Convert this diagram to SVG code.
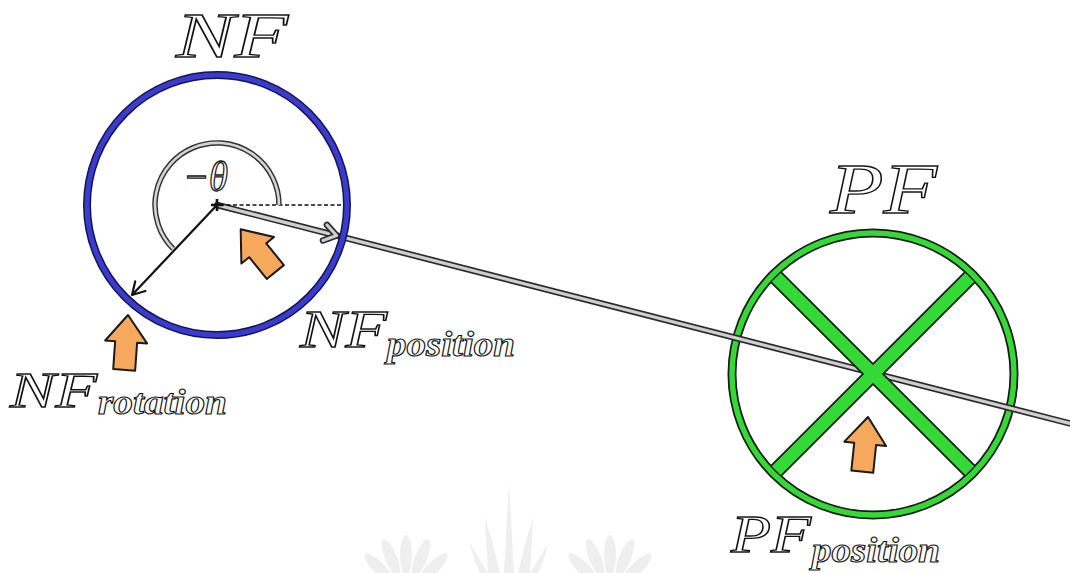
<svg xmlns="http://www.w3.org/2000/svg" xmlns:xlink="http://www.w3.org/1999/xlink" width="1070" height="573" viewBox="0 0 1070 573">
<style>
.lbl{font-family:"Liberation Serif","DejaVu Serif",serif;font-style:italic;fill:#fff;stroke:#111;stroke-width:1.3}
.sub{font-weight:bold;stroke-width:1.1}
.orange{fill:#f6a95d;stroke:#1a1a1a;stroke-width:2;stroke-linejoin:round}
.wm{fill:#efefef}
</style>
<defs>
<path id="blk" d="M0,0 L21,27 L11,27 L11,55 L-11,55 L-11,27 L-21,27 Z"/>
</defs>
<rect width="1070" height="573" fill="#fff"/>

<g id="watermark">
<path class="wm" d="M509,482 L514,573 L504,573 Z"/>
<path class="wm" d="M485,517 Q494,545 500,573 L488,573 Q486,545 485,517 Z"/>
<path class="wm" d="M533,517 Q532,545 530,573 L518,573 Q524,545 533,517 Z"/>
<path class="wm" d="M470,543 Q478,558 488,573 L480,573 Q473,558 470,543 Z"/>
<path class="wm" d="M548,543 Q545,558 538,573 L530,573 Q540,558 548,543 Z"/>
<g transform="translate(406,595)">
<ellipse class="wm" cx="0" cy="-35" rx="6" ry="20" transform="rotate(-70)"/>
<ellipse class="wm" cx="0" cy="-38" rx="6" ry="20" transform="rotate(-45)"/>
<ellipse class="wm" cx="0" cy="-40" rx="6" ry="20" transform="rotate(-22)"/>
<ellipse class="wm" cx="0" cy="-40" rx="6" ry="20"/>
<ellipse class="wm" cx="0" cy="-40" rx="6" ry="20" transform="rotate(22)"/>
<ellipse class="wm" cx="0" cy="-38" rx="6" ry="20" transform="rotate(45)"/>
<ellipse class="wm" cx="0" cy="-35" rx="6" ry="20" transform="rotate(70)"/>
</g>
<g transform="translate(610,595)">
<ellipse class="wm" cx="0" cy="-35" rx="6" ry="20" transform="rotate(-70)"/>
<ellipse class="wm" cx="0" cy="-38" rx="6" ry="20" transform="rotate(-45)"/>
<ellipse class="wm" cx="0" cy="-40" rx="6" ry="20" transform="rotate(-22)"/>
<ellipse class="wm" cx="0" cy="-40" rx="6" ry="20"/>
<ellipse class="wm" cx="0" cy="-40" rx="6" ry="20" transform="rotate(22)"/>
<ellipse class="wm" cx="0" cy="-38" rx="6" ry="20" transform="rotate(45)"/>
<ellipse class="wm" cx="0" cy="-35" rx="6" ry="20" transform="rotate(70)"/>
</g>
</g>

<g id="PF">
<circle cx="873" cy="374" r="141" fill="none" stroke="#1a1a1a" stroke-width="9"/>
<circle cx="873" cy="374" r="141" fill="none" stroke="#35d935" stroke-width="5.5"/>
</g>

<g id="connectors">
<line x1="217" y1="205" x2="1072" y2="424" stroke="#2a2a2a" stroke-width="6.5" stroke-linecap="round"/>
<line x1="217" y1="205" x2="1072" y2="424" stroke="#cfcfcf" stroke-width="3.2" stroke-linecap="round"/>
<polyline points="327,225 336.5,235.5 323,240.5" fill="none" stroke="#2a2a2a" stroke-width="6.5" stroke-linecap="round" stroke-linejoin="round"/>
<polyline points="327,225 336.5,235.5 323,240.5" fill="none" stroke="#cfcfcf" stroke-width="3.2" stroke-linecap="round" stroke-linejoin="round"/>
<line x1="220" y1="205" x2="345" y2="205" stroke="#111" stroke-width="1.5" stroke-dasharray="4 2.5"/>
<path d="M279,205 A62,62 0 1 0 173.2,248.8" fill="none" stroke="#333" stroke-width="5.5"/>
<path d="M279,205 A62,62 0 1 0 173.2,248.8" fill="none" stroke="#d4d4d4" stroke-width="2.6"/>
<line x1="217" y1="205" x2="133" y2="294" stroke="#111" stroke-width="2.2"/>
<polyline points="145.4,291 132,295 135.2,281.4" fill="none" stroke="#111" stroke-width="2.2" stroke-linecap="round" stroke-linejoin="round"/>
<path d="M211,205 H223 M217,199 V211" stroke="#111" stroke-width="2.6"/>
</g>

<g id="PF-cross">
<line x1="776.3" y1="277.3" x2="969.7" y2="470.7" stroke="#1a1a1a" stroke-width="16"/>
<line x1="969.7" y1="277.3" x2="776.3" y2="470.7" stroke="#1a1a1a" stroke-width="16"/>
<line x1="776.3" y1="277.3" x2="969.7" y2="470.7" stroke="#35d935" stroke-width="12.5"/>
<line x1="969.7" y1="277.3" x2="776.3" y2="470.7" stroke="#35d935" stroke-width="12.5"/>
</g>

<g id="NF">
<circle cx="217" cy="205" r="130" fill="none" stroke="#14144e" stroke-width="8"/>
<circle cx="217" cy="205" r="130" fill="none" stroke="#3b3bce" stroke-width="5"/>
</g>

<g id="arrows">
<use href="#blk" class="orange" transform="translate(240.7,229.3) rotate(-39)"/>
<use href="#blk" class="orange" transform="translate(128,315) rotate(4)"/>
<use href="#blk" class="orange" transform="translate(868,417) rotate(6)"/>
</g>

<g id="labels">
<text class="lbl" x="176" y="57" font-size="64" textLength="112" lengthAdjust="spacingAndGlyphs">NF</text>
<text class="lbl" x="830" y="213" font-size="72" textLength="107" lengthAdjust="spacingAndGlyphs">PF</text>
<text class="lbl" x="183" y="191" font-size="42" textLength="45" lengthAdjust="spacingAndGlyphs">−θ</text>
<text class="lbl" x="300" y="347" font-size="53" textLength="87" lengthAdjust="spacingAndGlyphs">NF</text>
<text class="lbl sub" x="387" y="356" font-size="36" textLength="128" lengthAdjust="spacingAndGlyphs">position</text>
<text class="lbl" x="10" y="407" font-size="51" textLength="87" lengthAdjust="spacingAndGlyphs">NF</text>
<text class="lbl sub" x="98" y="414" font-size="36" textLength="129" lengthAdjust="spacingAndGlyphs">rotation</text>
<text class="lbl" x="731" y="552" font-size="52" textLength="80" lengthAdjust="spacingAndGlyphs">PF</text>
<text class="lbl sub" x="812" y="562" font-size="36" textLength="128" lengthAdjust="spacingAndGlyphs">position</text>
</g>
</svg>
